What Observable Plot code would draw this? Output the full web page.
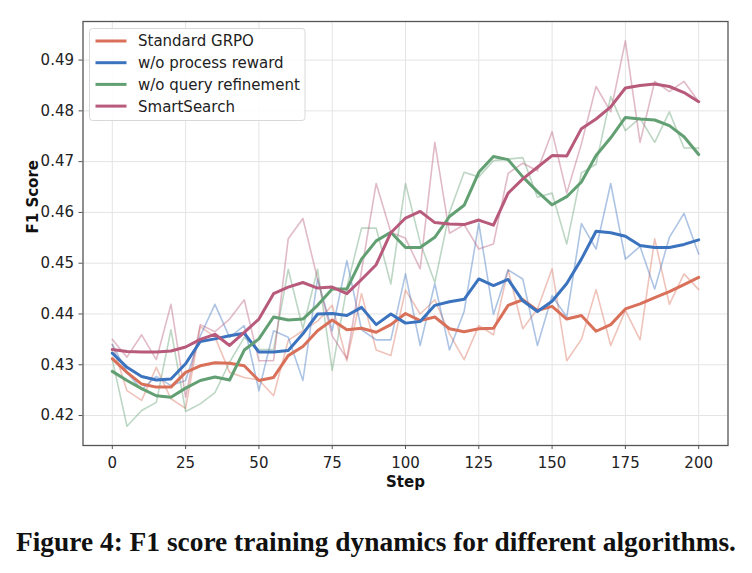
<!DOCTYPE html>
<html>
<head>
<meta charset="utf-8">
<script src="https://cdn.jsdelivr.net/npm/d3@7"></script>
<script src="https://cdn.jsdelivr.net/npm/@observablehq/plot@0.6"></script>
<style>
  body { margin: 0; background: #fff; }
  #wrap { position: relative; width: 752px; height: 573px; }
  #caption {
    position: absolute; left: 0; top: 527px; width: 752px; text-align: center;
    font-family: "Liberation Serif", "DejaVu Serif", serif; font-weight: bold;
    font-size: 27.4px; color: #111; white-space: nowrap;
  }
</style>
</head>
<body>
<div id="wrap">
  <div id="chart"></div>
  <div id="caption">Figure 4: F1 score training dynamics for different algorithms.</div>
</div>
<script>
// Training steps (logged every 5 steps)
const steps = [0,5,10,15,20,25,30,35,40,45,50,55,60,65,70,75,80,85,90,95,100,
               105,110,115,120,125,130,135,140,145,150,155,160,165,170,175,180,185,190,195,200];

const seriesNames = ["Standard GRPO", "w/o process reward", "w/o query refinement", "SmartSearch"];

// Raw F1 per step
const grpoRaw = [0.4340,0.4249,0.4230,0.4295,0.4233,0.4214,0.4375,0.4355,0.4285,0.4275,0.4270,
  0.4239,0.4348,0.4367,0.4386,0.4417,0.4308,0.4440,0.4329,0.4318,0.4447,0.4400,0.4428,0.4361,
  0.4310,0.4377,0.4359,0.4487,0.4371,0.4410,0.4489,0.4308,0.4350,0.4448,0.4338,0.4407,0.4349,
  0.4548,0.4419,0.4479,0.4448];
const noProcRaw = [0.4340,0.4285,0.4251,0.4277,0.4259,0.4269,0.4357,0.4419,0.4354,0.4377,0.4249,
  0.4367,0.4354,0.4269,0.4469,0.4367,0.4505,0.4369,0.4349,0.4349,0.4479,0.4338,0.4460,0.4329,
  0.4405,0.4579,0.4399,0.4487,0.4469,0.4338,0.4436,0.4394,0.4578,0.4528,0.4657,0.4508,0.4533,
  0.4449,0.4551,0.4598,0.4518];
const noRefineRaw = [0.4310,0.4179,0.4210,0.4226,0.4369,0.4208,0.4223,0.4245,0.4305,0.4354,0.4330,
  0.4330,0.4488,0.4371,0.4488,0.4289,0.4453,0.4569,0.4569,0.4459,0.4657,0.4541,0.4462,0.4600,
  0.4679,0.4670,0.4702,0.4705,0.4708,0.4630,0.4638,0.4538,0.4678,0.4695,0.4828,0.4761,0.4786,
  0.4738,0.4798,0.4727,0.4727];
const smartRaw = [0.4350,0.4315,0.4359,0.4310,0.4419,0.4236,0.4379,0.4365,0.4390,0.4428,0.4308,
  0.4308,0.4548,0.4588,0.4469,0.4357,0.4312,0.4485,0.4657,0.4561,0.4549,0.4489,0.4738,0.4559,
  0.4576,0.4528,0.4538,0.4677,0.4697,0.4682,0.4759,0.4638,0.4735,0.4848,0.4798,0.4938,0.4738,
  0.4858,0.4838,0.4858,0.4818];

// Smoothed F1 per step
const grpoSmooth = [0.4312,0.4285,0.4262,0.4256,0.4256,0.4285,0.4298,0.4304,0.4303,0.4298,0.4269,
  0.4275,0.4318,0.4336,0.4367,0.4388,0.4369,0.4372,0.4364,0.4379,0.4401,0.4387,0.4394,0.4371,
  0.4365,0.4371,0.4372,0.4417,0.4428,0.4407,0.4415,0.4390,0.4397,0.4366,0.4379,0.4410,0.4420,
  0.4432,0.4444,0.4458,0.4472];
const noProcSmooth = [0.4323,0.4295,0.4277,0.4270,0.4272,0.4302,0.4346,0.4351,0.4357,0.4362,0.4325,
  0.4325,0.4328,0.4361,0.4400,0.4401,0.4397,0.4413,0.4379,0.4400,0.4382,0.4385,0.4417,0.4424,
  0.4429,0.4469,0.4456,0.4468,0.4426,0.4405,0.4425,0.4460,0.4508,0.4563,0.4560,0.4553,0.4535,
  0.4531,0.4531,0.4537,0.4546];
const noRefineSmooth = [0.4287,0.4269,0.4253,0.4239,0.4236,0.4254,0.4269,0.4276,0.4270,0.4329,0.4351,
  0.4394,0.4388,0.4390,0.4417,0.4449,0.4449,0.4508,0.4544,0.4561,0.4531,0.4531,0.4551,0.4592,
  0.4614,0.4679,0.4710,0.4704,0.4670,0.4641,0.4615,0.4631,0.4660,0.4712,0.4747,0.4787,0.4784,
  0.4782,0.4771,0.4749,0.4714];
const smartSmooth = [0.4330,0.4326,0.4325,0.4325,0.4327,0.4335,0.4350,0.4360,0.4338,0.4364,0.4390,
  0.4440,0.4453,0.4462,0.4451,0.4453,0.4440,0.4468,0.4497,0.4560,0.4589,0.4602,0.4580,0.4577,
  0.4576,0.4585,0.4575,0.4638,0.4666,0.4689,0.4712,0.4711,0.4765,0.4784,0.4808,0.4845,0.4850,
  0.4853,0.4848,0.4836,0.4818];

const yTicks = [0.42, 0.43, 0.44, 0.45, 0.46, 0.47, 0.48, 0.49];
const xTicks = [0, 25, 50, 75, 100, 125, 150, 175, 200];

// Line colours, one per series
const palette = ["#d9705a", "#3b73bf", "#62a073", "#b85a7b"];

const rawSets = [grpoRaw, noProcRaw, noRefineRaw, smartRaw];
const smoothSets = [grpoSmooth, noProcSmooth, noRefineSmooth, smartSmooth];

const toRows = (sets) => sets.flatMap((vals, i) =>
  vals.map((v, j) => ({step: steps[j], f1: v, series: seriesNames[i]})));
const rawRows = toRows(rawSets);
const smoothRows = toRows(smoothSets);

const W = 752, H = 494;
const frameLeft = 82.5, frameRight = 727.5, frameTop = 21, frameBottom = 445;

const chart = Plot.plot({
  width: W,
  height: H,
  marginLeft: frameLeft,
  marginRight: W - frameRight,
  marginTop: frameTop,
  marginBottom: H - frameBottom,
  style: {fontFamily: "DejaVu Sans, sans-serif", fontSize: "15px", color: "#222", background: "#fff"},
  x: {domain: [-10, 210]},
  y: {domain: [0.4141, 0.4976]},
  color: {domain: seriesNames, range: palette},
  marks: [
    Plot.gridX(xTicks, {stroke: "#e4e4e4", strokeOpacity: 1, strokeWidth: 1}),
    Plot.gridY(yTicks, {stroke: "#e4e4e4", strokeOpacity: 1, strokeWidth: 1}),
    Plot.line(rawRows, {x: "step", y: "f1", z: "series", stroke: "series",
      strokeWidth: 1.6, strokeOpacity: 0.42, curve: "linear"}),
    Plot.line(smoothRows, {x: "step", y: "f1", z: "series", stroke: "series",
      strokeWidth: 3, strokeOpacity: 1, curve: "linear"}),
    Plot.frame({stroke: "#555", strokeWidth: 1.3}),
    Plot.axisX(xTicks, {tickSize: 4, tickPadding: 8, stroke: "#555", label: null, fontSize: 15}),
    Plot.axisY(yTicks, {tickSize: 4, tickPadding: 5, stroke: "#555", label: null,
      tickFormat: d3.format(".2f"), fontSize: 15}),
    Plot.text(["Step"], {frameAnchor: "bottom", dy: 36.5, lineAnchor: "middle",
      fontWeight: "bold", fontSize: 15, fill: "#111"}),
    Plot.text(["F1 Score"], {frameAnchor: "left", dx: -50, rotate: -90, fontWeight: "bold", fontSize: 15, fill: "#111"})
  ]
});

document.getElementById("chart").appendChild(chart);

// Legend in the upper-left corner of the frame
const svg = d3.select(chart);
const lg = svg.append("g").attr("transform", "translate(89.5,28.5)");
lg.append("rect").attr("width", 215.5).attr("height", 92).attr("rx", 3)
  .attr("fill", "#fff").attr("fill-opacity", 0.85).attr("stroke", "#d8d8d8");
seriesNames.forEach((name, i) => {
  const y = 12.5 + i * 21.7;
  lg.append("line").attr("x1", 6).attr("x2", 37).attr("y1", y).attr("y2", y)
    .attr("stroke", palette[i]).attr("stroke-width", 3);
  lg.append("text").attr("x", 48.5).attr("y", y).attr("dy", "0.36em")
    .attr("text-anchor", "start")
    .attr("font-family", "DejaVu Sans, sans-serif").attr("font-size", 15)
    .attr("fill", "#222").text(name);
});
</script>
</body>
</html>
